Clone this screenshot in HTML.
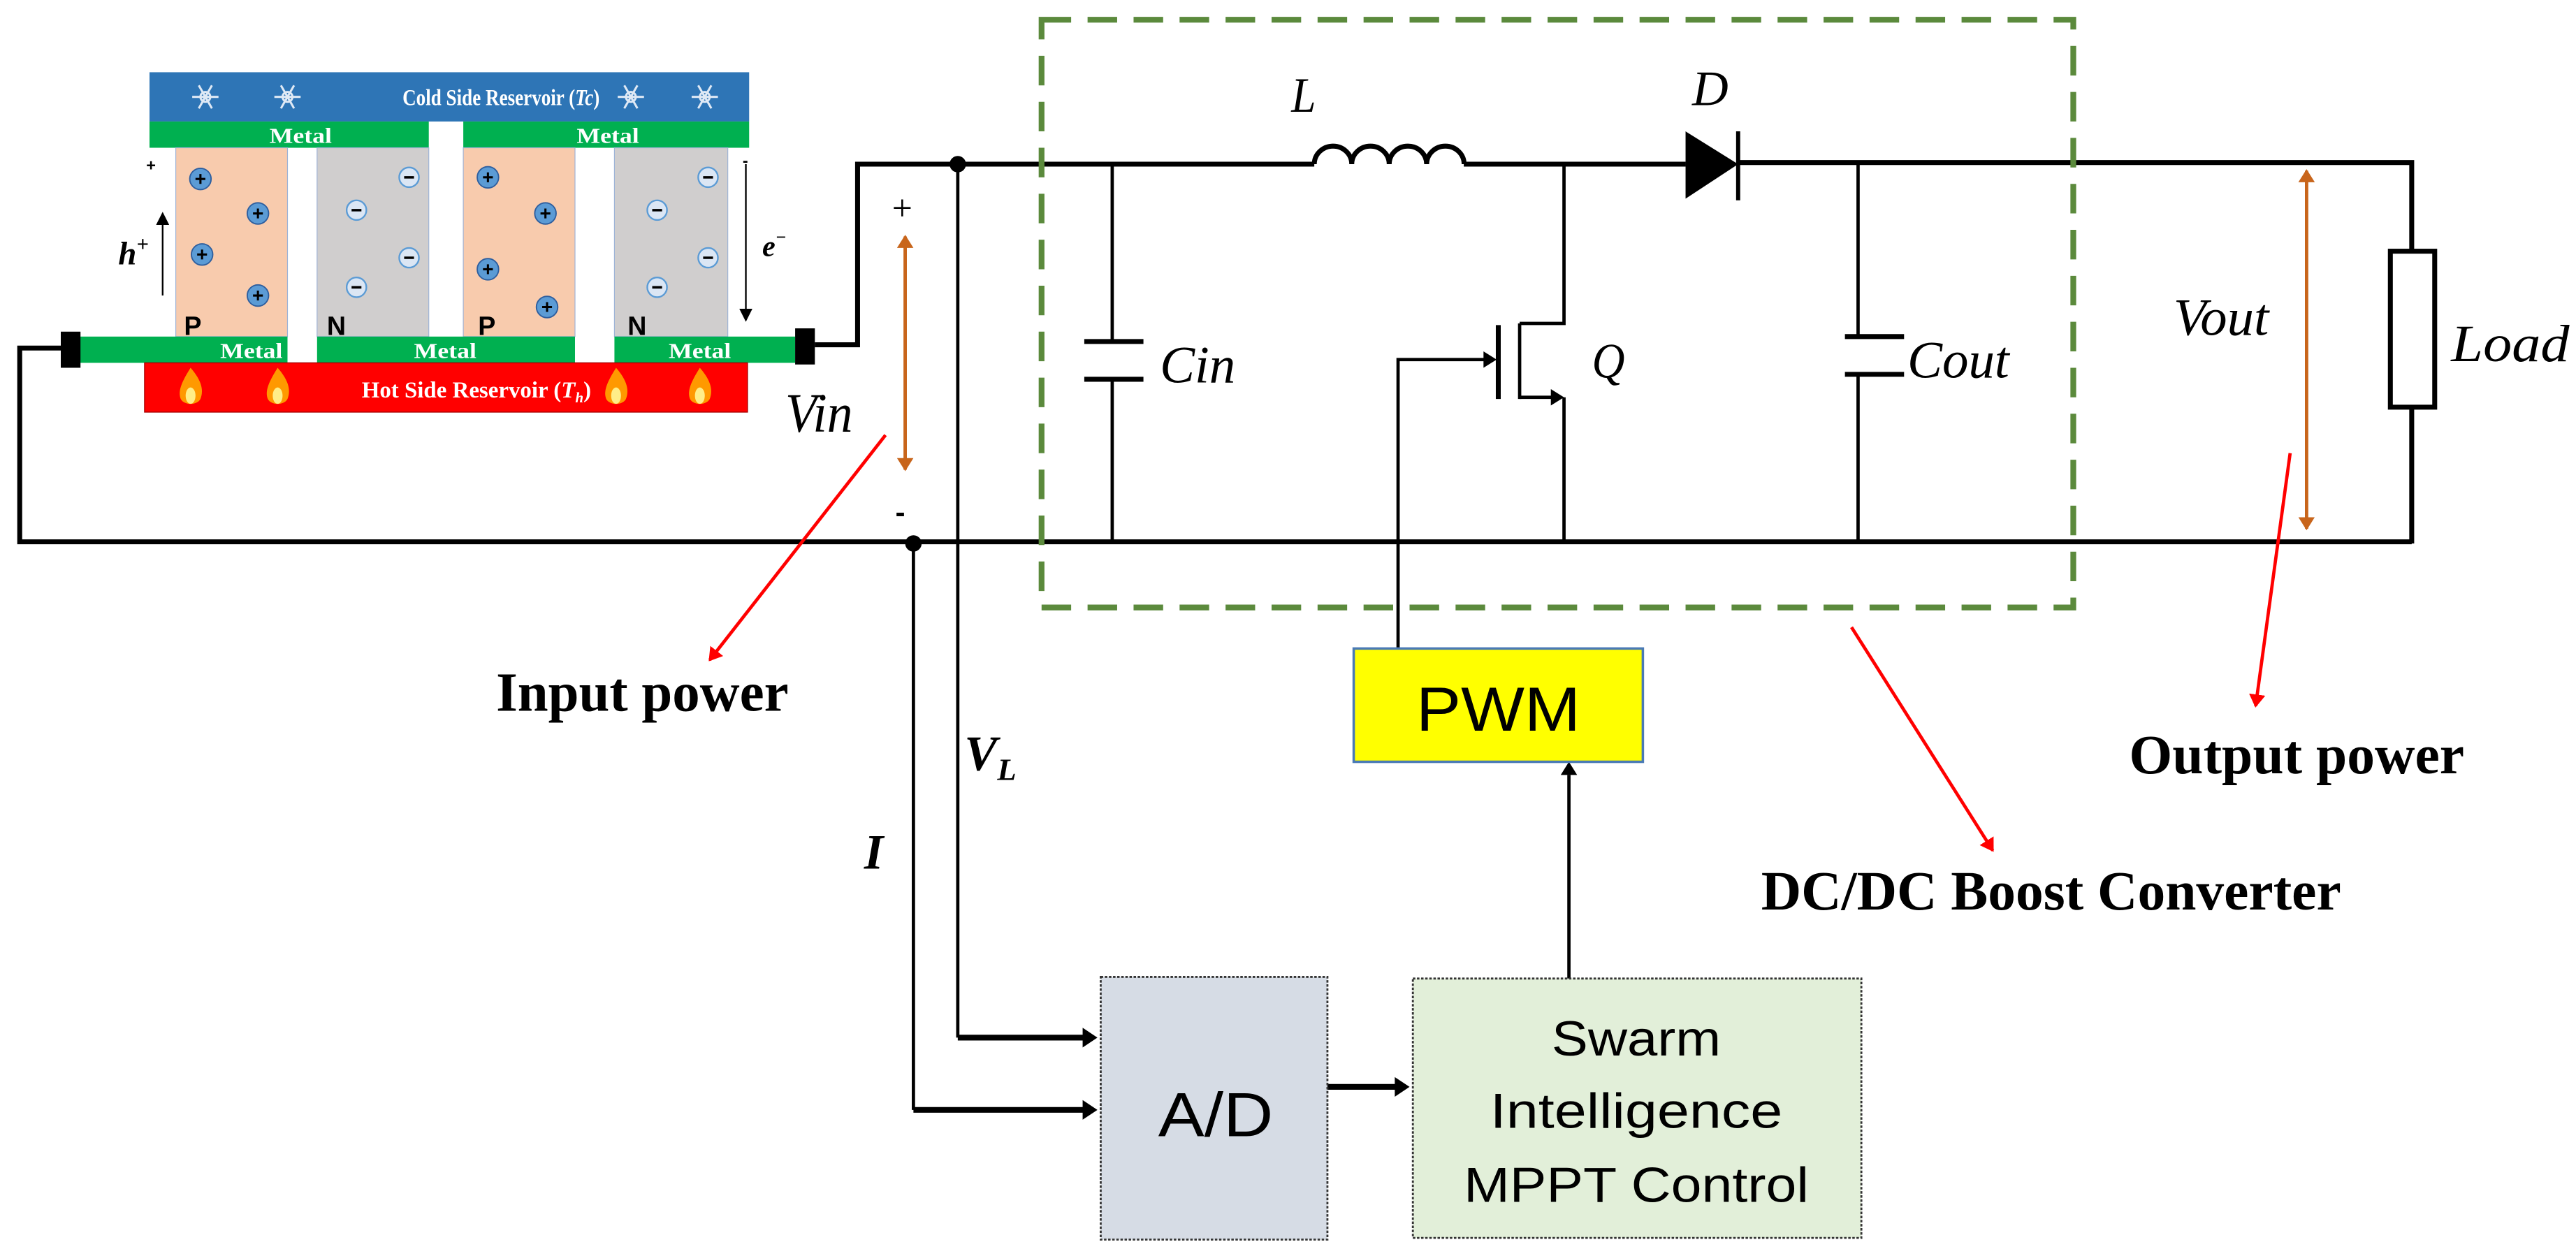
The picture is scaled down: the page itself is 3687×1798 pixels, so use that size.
<!DOCTYPE html>
<html><head><meta charset="utf-8"><style>
html,body{margin:0;padding:0;background:#fff;}
svg{display:block;}
</style></head><body>
<svg width="3687" height="1798" viewBox="0 0 1568 765" preserveAspectRatio="none" xmlns="http://www.w3.org/2000/svg">
<defs>
<marker id="ab" markerWidth="8" markerHeight="8" refX="7" refY="4" orient="auto" markerUnits="userSpaceOnUse"><path d="M0,0 L8,4 L0,8 z" fill="#000"/></marker>
<marker id="ar" markerWidth="8" markerHeight="10" refX="7" refY="5" orient="auto" markerUnits="userSpaceOnUse"><path d="M0,0 L8,5 L0,10 z" fill="#f00"/></marker>
<marker id="ao" markerWidth="8" markerHeight="10" refX="7" refY="5" orient="auto" markerUnits="userSpaceOnUse"><path d="M0,0 L8,5 L0,10 z" fill="#c8651b"/></marker>
</defs>

<!-- TEG module -->
<rect x="91" y="44" width="365" height="30" fill="#2e75b6"/>
<text x="305" y="64" font-family="Liberation Serif" font-weight="bold" font-size="14" fill="#fff" text-anchor="middle" textLength="120" lengthAdjust="spacingAndGlyphs">Cold Side Reservoir (<tspan font-style="italic">Tc</tspan>)</text>
<g fill="none" stroke="#dfe9f5" stroke-width="1.3">
<g transform="translate(125,59)"><circle r="3"/><path d="M-8,0H8M-4,-7L4,7M4,-7L-4,7"/></g>
<g transform="translate(175,59)"><circle r="3"/><path d="M-8,0H8M-4,-7L4,7M4,-7L-4,7"/></g>
<g transform="translate(384,59)"><circle r="3"/><path d="M-8,0H8M-4,-7L4,7M4,-7L-4,7"/></g>
<g transform="translate(429,59)"><circle r="3"/><path d="M-8,0H8M-4,-7L4,7M4,-7L-4,7"/></g>
</g>
<rect x="91" y="74" width="170" height="16" fill="#00b050"/>
<rect x="282" y="74" width="174" height="16" fill="#00b050"/>
<text x="183" y="87" font-family="Liberation Serif" font-weight="bold" font-size="13" fill="#fff" text-anchor="middle" textLength="38" lengthAdjust="spacingAndGlyphs">Metal</text>
<text x="370" y="87" font-family="Liberation Serif" font-weight="bold" font-size="13" fill="#fff" text-anchor="middle" textLength="38" lengthAdjust="spacingAndGlyphs">Metal</text>
<rect x="107" y="90" width="68" height="115" fill="#f8cbad" stroke="#9db3d6" stroke-width="0.5"/>
<rect x="193" y="90" width="68" height="115" fill="#d0cece" stroke="#9db3d6" stroke-width="0.5"/>
<rect x="282" y="90" width="68" height="115" fill="#f8cbad" stroke="#9db3d6" stroke-width="0.5"/>
<rect x="374" y="90" width="69" height="115" fill="#d0cece" stroke="#9db3d6" stroke-width="0.5"/>
<g font-family="Liberation Sans" font-weight="bold" font-size="16" fill="#000">
<text x="112" y="204">P</text><text x="199" y="204">N</text><text x="291" y="204">P</text><text x="382" y="204">N</text></g>
<g fill="#5b9bd5" stroke="#2e5e9e" stroke-width="0.8">
<circle cx="122" cy="109" r="6.5"/><circle cx="157" cy="130" r="6.5"/><circle cx="123" cy="155" r="6.5"/><circle cx="157" cy="180" r="6.5"/>
<circle cx="297" cy="108" r="6.5"/><circle cx="332" cy="130" r="6.5"/><circle cx="297" cy="164" r="6.5"/><circle cx="333" cy="187" r="6.5"/></g>
<g stroke="#000" stroke-width="1.3">
<path d="M119,109h6M122,106v6M154,130h6M157,127v6M120,155h6M123,152v6M154,180h6M157,177v6M294,108h6M297,105v6M329,130h6M332,127v6M294,164h6M297,161v6M330,187h6M333,184v6"/></g>
<g fill="#dbe6f4" stroke="#5b9bd5" stroke-width="1">
<circle cx="249" cy="108" r="6"/><circle cx="217" cy="128" r="6"/><circle cx="249" cy="157" r="6"/><circle cx="217" cy="175" r="6"/>
<circle cx="431" cy="108" r="6"/><circle cx="400" cy="128" r="6"/><circle cx="431" cy="157" r="6"/><circle cx="400" cy="175" r="6"/></g>
<g stroke="#000" stroke-width="1.5"><path d="M246,108h6M214,128h6M246,157h6M214,175h6M428,108h6M397,128h6M428,157h6M397,175h6"/></g>
<rect x="48" y="205" width="127" height="16" fill="#00b050"/>
<rect x="193" y="205" width="157" height="16" fill="#00b050"/>
<rect x="374" y="205" width="110" height="16" fill="#00b050"/>
<g font-family="Liberation Serif" font-weight="bold" font-size="13" fill="#fff" text-anchor="middle">
<text x="153" y="218" textLength="38" lengthAdjust="spacingAndGlyphs">Metal</text><text x="271" y="218" textLength="38" lengthAdjust="spacingAndGlyphs">Metal</text><text x="426" y="218" textLength="38" lengthAdjust="spacingAndGlyphs">Metal</text></g>
<rect x="37" y="202" width="12" height="22" fill="#000"/>
<rect x="484" y="200" width="12" height="22" fill="#000"/>
<rect x="88" y="221" width="367" height="30" fill="#ff0000" stroke="#a00" stroke-width="0.6"/>
<text x="290" y="242" font-family="Liberation Serif" font-weight="bold" font-size="14" fill="#fff" text-anchor="middle">Hot Side Reservoir (<tspan font-style="italic">T<tspan font-size="9" dy="3">h</tspan></tspan><tspan dy="-3">)</tspan></text>
<g>
<g transform="translate(116,236)"><path d="M0,-12 C7,-4 8,2 6,7 C4,11 -4,11 -6,7 C-8,2 -5,-4 0,-12z" fill="#ff9900"/><ellipse cx="0" cy="5" rx="3" ry="5" fill="#ffee88"/></g>
<g transform="translate(169,236)"><path d="M0,-12 C7,-4 8,2 6,7 C4,11 -4,11 -6,7 C-8,2 -5,-4 0,-12z" fill="#ff9900"/><ellipse cx="0" cy="5" rx="3" ry="5" fill="#ffee88"/></g>
<g transform="translate(375,236)"><path d="M0,-12 C7,-4 8,2 6,7 C4,11 -4,11 -6,7 C-8,2 -5,-4 0,-12z" fill="#ff9900"/><ellipse cx="0" cy="5" rx="3" ry="5" fill="#ffee88"/></g>
<g transform="translate(426,236)"><path d="M0,-12 C7,-4 8,2 6,7 C4,11 -4,11 -6,7 C-8,2 -5,-4 0,-12z" fill="#ff9900"/><ellipse cx="0" cy="5" rx="3" ry="5" fill="#ffee88"/></g>
</g>
<text x="89" y="104" font-family="Liberation Sans" font-weight="bold" font-size="10">+</text>
<text x="452" y="101" font-family="Liberation Sans" font-weight="bold" font-size="10">-</text>
<line x1="99" y1="180" x2="99" y2="130" stroke="#000" stroke-width="1" marker-end="url(#ab)"/>
<line x1="454" y1="100" x2="454" y2="195" stroke="#000" stroke-width="1" marker-end="url(#ab)"/>
<text x="72" y="161" font-family="Liberation Serif" font-weight="bold" font-style="italic" font-size="20">h<tspan font-size="13" dy="-8">+</tspan></text>
<text x="464" y="156" font-family="Liberation Serif" font-weight="bold" font-style="italic" font-size="18">e<tspan font-size="11" dy="-8">−</tspan></text>

<!-- wires -->
<g stroke="#000" stroke-width="3" fill="none">
<path d="M40,212 H12 V330 H1468"/>
<path d="M496,210 H522 V100 H800"/>
<path d="M891,100 H1026"/>
<path d="M1058,99 H1468 V153"/>
<path d="M1468,248 V331"/>
</g>
<g stroke="#000" stroke-width="2" fill="none">
<path d="M677,100 V208 M677,231 V331"/>
<path d="M660,208 H696 M660,231 H696" stroke-width="3"/>
<path d="M1131,100 V205 M1131,228 V331"/>
<path d="M1123,205 H1159 M1123,228 H1159" stroke-width="3"/>
<path d="M583,100 V632"/>
<path d="M556,331 V676"/>
<path d="M583,632 H660 M556,676 H660" stroke-width="3.5"/>
<path d="M952,100 V197 H925 M925,197 V243"/>
<path d="M912,198 V243" stroke-width="3"/>
<path d="M925,242 H946"/>
<path d="M952,242 V331"/>
<path d="M851,395 V219 H905"/>
<path d="M955,596 V472"/>
<path d="M808,662 H850" stroke-width="3.5"/>
</g>
<path d="M800,100 a11.4,11 0 0 1 22.8,0 a11.4,11 0 0 1 22.8,0 a11.4,11 0 0 1 22.8,0 a11.4,11 0 0 1 22.8,0" fill="none" stroke="#000" stroke-width="3"/>
<path d="M1026,80 L1058,100 L1026,121 z" fill="#000"/>
<line x1="1058" y1="80" x2="1058" y2="122" stroke="#000" stroke-width="2.5"/>
<path d="M903,214 L911,219 L903,224z M944,237 L952,242 L944,247z M659,626 L668,632 L659,638z M659,670 L668,676 L659,682z M849,656 L858,662 L849,668z M950,472 L955,464 L960,472z" fill="#000"/>
<rect x="1455" y="153" width="27" height="95" fill="#fff" stroke="#000" stroke-width="3"/>
<circle cx="583" cy="100" r="5" fill="#000"/>
<circle cx="556" cy="331" r="5" fill="#000"/>

<!-- dashed box -->
<rect x="634" y="12" width="628" height="358" fill="none" stroke="#5b8a3c" stroke-width="3.5" stroke-dasharray="18,10"/>

<!-- orange arrows -->
<line x1="551" y1="150" x2="551" y2="286" stroke="#c8651b" stroke-width="2" marker-end="url(#ao)"/>
<line x1="551" y1="286" x2="551" y2="144" stroke="#c8651b" stroke-width="2" marker-end="url(#ao)"/>
<line x1="1404" y1="110" x2="1404" y2="322" stroke="#c8651b" stroke-width="2" marker-end="url(#ao)"/>
<line x1="1404" y1="322" x2="1404" y2="104" stroke="#c8651b" stroke-width="2" marker-end="url(#ao)"/>

<!-- red arrows -->
<line x1="539" y1="265" x2="432" y2="402" stroke="#f00" stroke-width="2" marker-end="url(#ar)"/>
<line x1="1394" y1="276" x2="1373" y2="430" stroke="#f00" stroke-width="2" marker-end="url(#ar)"/>
<line x1="1127" y1="382" x2="1213" y2="518" stroke="#f00" stroke-width="2" marker-end="url(#ar)"/>

<!-- labels -->
<g font-family="Liberation Serif" font-style="italic" fill="#000">
<text x="478" y="263" font-size="34" textLength="41" lengthAdjust="spacingAndGlyphs">Vin</text>
<text x="706" y="233" font-size="32" textLength="46" lengthAdjust="spacingAndGlyphs">Cin</text>
<text x="969" y="230" font-size="30" textLength="20" lengthAdjust="spacingAndGlyphs">Q</text>
<text x="1161" y="230" font-size="32" textLength="62" lengthAdjust="spacingAndGlyphs">Cout</text>
<text x="1323" y="204" font-size="32" textLength="58" lengthAdjust="spacingAndGlyphs">Vout</text>
<text x="1492" y="220" font-size="32" textLength="72" lengthAdjust="spacingAndGlyphs">Load</text>
<text x="786" y="68" font-size="30" textLength="15" lengthAdjust="spacingAndGlyphs">L</text>
<text x="1030" y="64" font-size="30" textLength="22" lengthAdjust="spacingAndGlyphs">D</text>
</g>
<text x="543" y="134" font-family="Liberation Serif" font-size="22">+</text>
<text x="545" y="318" font-family="Liberation Sans" font-weight="bold" font-size="18">-</text>
<g font-family="Liberation Serif" font-weight="bold" fill="#000">
<text x="302" y="433" font-size="34" textLength="178" lengthAdjust="spacingAndGlyphs">Input power</text>
<text x="1296" y="471" font-size="34" textLength="204" lengthAdjust="spacingAndGlyphs">Output power</text>
<text x="1072" y="554" font-size="34" textLength="353" lengthAdjust="spacingAndGlyphs">DC/DC Boost Converter</text>
<text x="587" y="469" font-size="30" font-style="italic">V<tspan font-size="19" dy="6">L</tspan></text>
<text x="526" y="529" font-size="30" font-style="italic">I</text>
</g>

<!-- blocks -->
<rect x="824" y="395" width="176" height="69" fill="#ffff00" stroke="#4a7ab5" stroke-width="1.5"/>
<text x="912" y="445" font-family="Liberation Sans" font-size="38" text-anchor="middle" textLength="100" lengthAdjust="spacingAndGlyphs">PWM</text>
<rect x="670" y="595" width="138" height="160" fill="#d6dce5" stroke="#333" stroke-width="1.2" stroke-dasharray="1.5,1"/>
<text x="740" y="692" font-family="Liberation Sans" font-size="38" text-anchor="middle" textLength="70" lengthAdjust="spacingAndGlyphs">A/D</text>
<rect x="860" y="596" width="273" height="158" fill="#e2efd9" stroke="#333" stroke-width="1.2" stroke-dasharray="1.5,1"/>
<g font-family="Liberation Sans" font-size="30" text-anchor="middle" fill="#000">
<text x="996" y="643" textLength="103" lengthAdjust="spacingAndGlyphs">Swarm</text>
<text x="996" y="687" textLength="178" lengthAdjust="spacingAndGlyphs">Intelligence</text>
<text x="996" y="732" textLength="210" lengthAdjust="spacingAndGlyphs">MPPT Control</text>
</g>
</svg>
</body></html>
